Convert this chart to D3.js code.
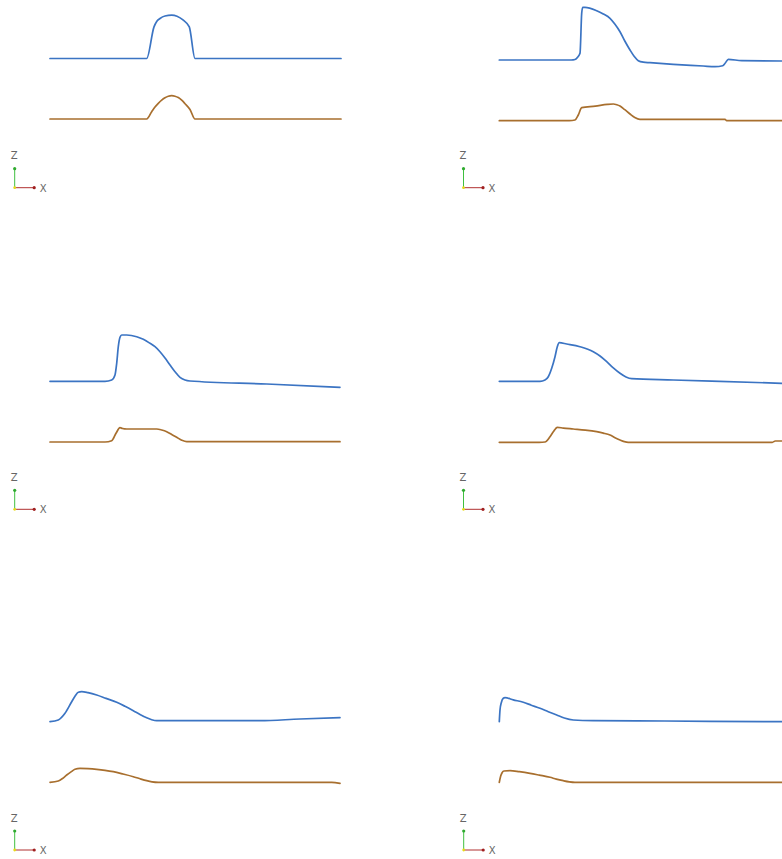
<!DOCTYPE html>
<html>
<head>
<meta charset="utf-8">
<script src="https://cdn.jsdelivr.net/npm/d3@7"></script>
<style>
  html, body { margin: 0; padding: 0; background: #ffffff; }
  svg { display: block; }
</style>
</head>
<body>
<div id="chart"></div>
<script>
// Profiles along x (0..291) with heights relative to the still level, for 6 snapshots.
// Upper (blue) = free surface, lower (brown) = second profile.
const p1Blue  = [[0,0],[96.7,0],[104,31.6],[106.7,37],[110,40],[115,42.5],[121.7,43.3],[127,42.3],[133.3,38.3],[139.3,31.6],[145,0],[291,0]];
const p1Brown = [[0,0],[96.7,0],[101.7,7.3],[105,12],[108.3,15.7],[111.7,18.9],[115,21.2],[118.3,22.7],[121.7,23.3],[125,22.8],[128.3,21.4],[131.7,18.8],[135,15.3],[140,9.5],[145,0],[291,0]];

const p2Blue  = [[0,0],[72,0],[75.7,0.5],[78.5,3],[80.7,6.7],[82.4,46.7],[83.4,52.7],[85.7,52.7],[97.4,49.3],[104,46],[110.7,41.7],[115.5,36],[120.7,28.3],[125.5,19],[130.7,10],[135,3.5],[139,-0.7],[144,-2.2],[150.7,-2.7],[174,-4.3],[204,-6],[215.7,-6.7],[223.4,-5.7],[226,-3],[229,0.7],[242.4,-0.7],[282.4,-1],[291,-1]];
const p2Brown = [[0,0],[70,0],[75.7,0.7],[79,5.7],[82.4,13],[96,14.5],[108,16.3],[114,16.7],[117.5,16],[120.7,14.7],[125.5,11],[130.7,6.7],[135.5,3.2],[140.7,1.4],[225.7,1.4],[227.4,0],[291,0]];

const p3Blue  = [[0,0],[55,0],[61.7,1.3],[65,6.3],[66.7,18],[68.3,34.6],[70,44],[71.7,46.3],[76.7,46.3],[86.7,44.6],[93.3,42],[100,38],[105,34.6],[110,29.6],[115,23.3],[120,16.3],[125,9.6],[130,4],[135,1.3],[140,0.3],[216.7,-2.7],[290,-6]];
const p3Brown = [[0,0],[55,0],[61.7,1.3],[66,8.7],[70,14.3],[72.5,13.5],[76.7,13],[106.7,13],[111.7,12],[116.7,10.3],[121.7,7.5],[126.7,4.7],[131.7,1.8],[136.7,0.3],[290,0.3]];

const p4Blue  = [[0,0],[40.7,0],[45.7,1.3],[49,4.6],[52.4,13],[55.7,24.6],[58,34.6],[60,38.6],[67.4,37.3],[80.7,34.6],[94,29.6],[100.7,25.3],[107.4,19.6],[114,13.4],[120.7,8],[126.7,4.3],[132.4,2.6],[174,1.3],[282.4,-2],[291,-2.3]];
const p4Brown = [[0,0],[40,0],[45.7,0.3],[50.7,5.6],[54,10.5],[58,15],[64,14.2],[74,13.3],[86,12.2],[97.4,10.6],[104,9.2],[110.7,7.3],[115.7,4.6],[120.7,2.3],[125,0.7],[129,0],[273,0],[276,1.3],[291,1.3]];

const p5Blue  = [[0,-1],[8.3,0.7],[15,7.4],[21.7,19],[25,24.5],[28.3,28.4],[31.7,29],[38,28],[46.7,25.7],[56,22.3],[66.7,18.4],[75,14.4],[83.3,10],[90,6.3],[96.7,3],[101.7,1],[106.7,0],[210,0],[250,1.7],[290,3]];
const p5Brown = [[0,0],[8.3,1.3],[12.5,3.8],[16.7,7.3],[21,10.4],[25,13],[30,14],[38,13.7],[46.7,13],[55,12],[63.3,10.6],[73,8.3],[83.3,5.6],[90,3.5],[96.7,1.6],[102,0.5],[108.3,0],[281.7,0],[290,-1]];

const p6Blue  = [[0,0],[0.7,11.7],[2,19],[4,23.4],[5.7,24],[14,21.8],[24,19.4],[32,16.5],[40.7,13.4],[49,10],[57.4,6.7],[65,3.7],[74,1.7],[94,1],[165.7,0.7],[282.4,0],[291,0]];
const p6Brown = [[0,0],[1.4,6.3],[2.8,9.5],[4.7,11.3],[10.7,11.6],[20,10.6],[30.7,9],[40,7.2],[50.7,5],[57,3.2],[64,1.6],[70,0.5],[75.7,0],[291,0]];

const blueSeries  = [p1Blue, p2Blue, p3Blue, p4Blue, p5Blue, p6Blue];
const brownSeries = [p1Brown, p2Brown, p3Brown, p4Brown, p5Brown, p6Brown];
const axisLabels = ["Z", "X"];

// Layout (positions kept out of data arrays)
const W = 782, H = 859;
const panelLeft = [50, 499.3, 50, 499.3, 50, 499.3];
const blueBase  = [58.5, 60, 381.3, 381.3, 720.7, 721.7];
const brownBase = [119, 120.7, 442, 442.3, 782.3, 782.3];
const triadX = [14.7, 463.5, 14.7, 463.5, 14.7, 463.7];
const triadY = [187.7, 187.7, 509.3, 509.3, 850, 850];

const blueColor = "#3b74c3";
const brownColor = "#a86f2e";

const svg = d3.select("#chart").append("svg")
  .attr("width", W).attr("height", H);

const curve = d3.curveMonotoneX;

for (let i = 0; i < 6; i++) {
  const x = d3.scaleLinear().domain([0, 291]).range([panelLeft[i], panelLeft[i] + 291]);
  const yB = d3.scaleLinear().domain([0, 50]).range([blueBase[i], blueBase[i] - 50]);
  const yR = d3.scaleLinear().domain([0, 50]).range([brownBase[i], brownBase[i] - 50]);

  const lineB = d3.line().x(d => x(d[0])).y(d => yB(d[1])).curve(curve);
  const lineR = d3.line().x(d => x(d[0])).y(d => yR(d[1])).curve(curve);

  const g = svg.append("g");
  g.append("path").datum(blueSeries[i])
    .attr("d", lineB).attr("fill", "none")
    .attr("stroke", blueColor).attr("stroke-width", 1.7)
    .attr("stroke-linejoin", "round").attr("stroke-linecap", "round");
  g.append("path").datum(brownSeries[i])
    .attr("d", lineR).attr("fill", "none")
    .attr("stroke", brownColor).attr("stroke-width", 1.7)
    .attr("stroke-linejoin", "round").attr("stroke-linecap", "round");

  // orientation triad
  const ox = triadX[i], oy = triadY[i];
  const t = svg.append("g");
  t.append("line").attr("x1", ox).attr("y1", oy).attr("x2", ox).attr("y2", oy - 19)
    .attr("stroke", "#3fbf3f").attr("stroke-width", 1);
  t.append("line").attr("x1", ox).attr("y1", oy).attr("x2", ox + 19.5).attr("y2", oy)
    .attr("stroke", "#b03030").attr("stroke-width", 1);
  t.append("circle").attr("cx", ox).attr("cy", oy - 19).attr("r", 1.6).attr("fill", "#2faa2f");
  t.append("circle").attr("cx", ox + 19.5).attr("cy", oy).attr("r", 1.6).attr("fill", "#a01f1f");
  t.append("circle").attr("cx", ox).attr("cy", oy).attr("r", 1.4).attr("fill", "#e6d81a");
  t.append("text").attr("x", ox - 0.5).attr("y", oy - 28.5)
    .attr("text-anchor", "middle").attr("font-family", "DejaVu Sans, sans-serif")
    .attr("font-size", 10).attr("fill", "#666").text(axisLabels[0]);
  t.append("text").attr("x", ox + 28.5).attr("y", oy + 4)
    .attr("text-anchor", "middle").attr("font-family", "DejaVu Sans, sans-serif")
    .attr("font-size", 10).attr("fill", "#666").text(axisLabels[1]);
}
</script>
</body>
</html>
